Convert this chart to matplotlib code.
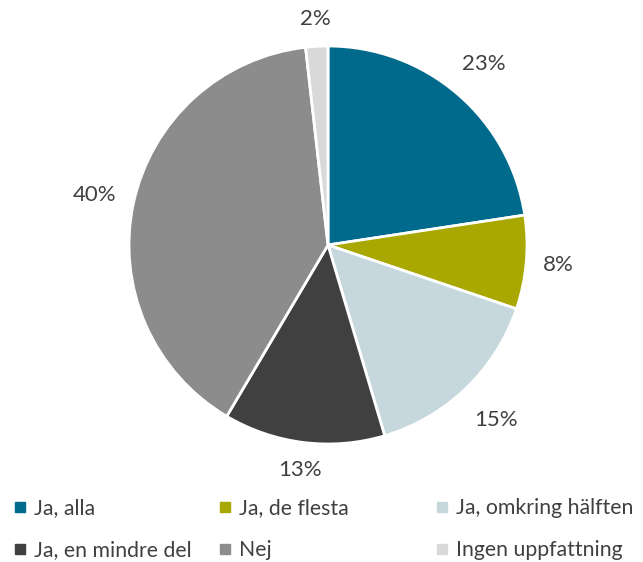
import numpy as np
import matplotlib.pyplot as plt
from matplotlib.lines import Line2D

labels = ['Ja, alla', 'Ja, de flesta', 'Ja, omkring hälften',
          'Ja, en mindre del', 'Nej', 'Ingen uppfattning']
values = [22.6, 7.6, 15.2, 13.1, 39.7, 1.8]
colors = ['#006a8c', '#a8a800', '#c6d8de', '#404040', '#8c8c8c', '#d9d9d9']

plt.rcParams['font.family'] = ['Lato', 'DejaVu Sans']
text_color = '#404040'

fig = plt.figure(figsize=(6.43, 5.62), dpi=100)
ax = fig.add_axes([(328 - 199) / 643, (562 - 444) / 562, 398 / 643, 398 / 562])

wedges, texts, autotexts = ax.pie(
    values, colors=colors, startangle=90, counterclock=False,
    autopct='%1.0f%%', pctdistance=1.2,
    wedgeprops=dict(edgecolor='white', linewidth=2),
    textprops=dict(color=text_color, fontsize=16))
ax.set_aspect('equal')
ax.set_xlim(-1, 1)
ax.set_ylim(-1, 1)

# label distance from centre, per slice (labels hug the pie like in Excel)
label_dist = [1.2, 1.16, 1.22, 1.14, 1.2, 1.14]
for w, t, d in zip(wedges, autotexts, label_dist):
    ang = np.deg2rad((w.theta1 + w.theta2) / 2)
    t.set_position((d * np.cos(ang), d * np.sin(ang)))

# one small legend per column so the columns sit at fixed x positions
col_x = [14, 219, 436]
for j, x in enumerate(col_x):
    idx = [j, j + 3]
    handles = [Line2D([], [], marker='s', linestyle='none', markersize=6.5,
                      markerfacecolor=colors[i], markeredgecolor=colors[i]) for i in idx]
    leg = fig.legend(handles, [labels[i] for i in idx], loc='upper left',
                     bbox_to_anchor=(x / 643, (562 - 498) / 562), frameon=False,
                     fontsize=15.3, labelcolor=text_color, handlelength=0.6,
                     handletextpad=0.35, labelspacing=1.05,
                     borderaxespad=0, borderpad=0)

fig.savefig('out.png', dpi=100)
